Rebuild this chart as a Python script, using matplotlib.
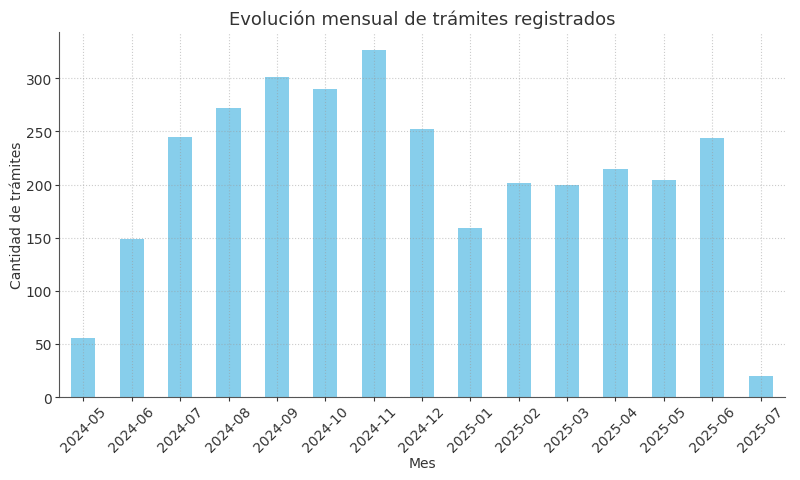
import matplotlib
matplotlib.use("Agg")
from matplotlib import pyplot as plt
import numpy as np

meses = ['2024-05', '2024-06', '2024-07', '2024-08', '2024-09', '2024-10', '2024-11', '2024-12',
         '2025-01', '2025-02', '2025-03', '2025-04', '2025-05', '2025-06', '2025-07']
tramites = [56, 149, 245, 272, 301, 290, 327, 252, 159, 201, 200, 215, 204, 244, 20]

fig, ax = plt.subplots(figsize=(8, 4.81), dpi=100)
x = np.arange(len(meses))
ax.bar(x, tramites, width=0.5, color='skyblue', zorder=1)
ax.set_xticks(x)
ax.set_xticklabels(meses, rotation=45)
ax.set_xlim(-0.5, len(meses) - 0.5)
ax.set_ylim(0, max(tramites) * 1.05)

ax.set_title('Evolución mensual de trámites registrados', fontsize=13, color='#333333')
ax.set_xlabel('Mes', fontsize=10, color='#333333', labelpad=1)
ax.set_ylabel('Cantidad de trámites', fontsize=10, color='#333333', labelpad=1)
ax.tick_params(colors='#333333', labelsize=10, length=3, pad=2)
ax.grid(True, linestyle=':', color='#999999', linewidth=0.8, alpha=0.5, zorder=2)
ax.set_axisbelow(False)
ax.spines['top'].set_visible(False)
ax.spines['right'].set_visible(False)
ax.spines['left'].set_color('#555555')
ax.spines['bottom'].set_color('#555555')

plt.subplots_adjust(left=0.074, right=0.981, top=0.931, bottom=0.1725)
plt.savefig('out.png', dpi=100)
